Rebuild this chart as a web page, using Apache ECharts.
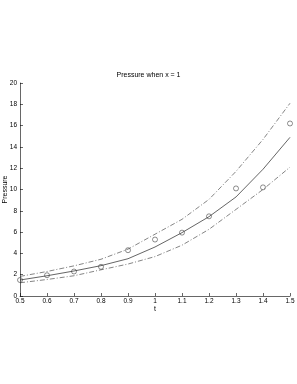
<!DOCTYPE html>
<html><head><meta charset="utf-8">
<script src="https://cdn.jsdelivr.net/npm/echarts@6/dist/echarts.min.js"></script>
<style>html,body{margin:0;padding:0;background:#fff}#c{width:297px;height:384px}</style>
</head><body><div id="c"></div>
<script>
const tValues = [0.5, 0.6, 0.7, 0.8, 0.9, 1.0, 1.1, 1.2, 1.3, 1.4, 1.5];
const meanP = [1.5, 1.9, 2.35, 2.85, 3.5, 4.6, 5.95, 7.45, 9.3, 11.9, 14.9];
const upperP = [1.84, 2.3, 2.83, 3.45, 4.4, 5.8, 7.2, 9.07, 11.7, 14.7, 18.1];
const lowerP = [1.24, 1.55, 1.9, 2.46, 3.0, 3.7, 4.77, 6.26, 8.13, 10.0, 12.1];
const observedP = [1.5, 1.95, 2.3, 2.74, 4.3, 5.3, 5.95, 7.48, 10.1, 10.2, 16.2];

const pair = arr => tValues.map((t, i) => [t, arr[i]]);
const font = 'Liberation Sans, Arial, sans-serif';
const dashDot = {type: [5, 2, 1, 2], width: 0.6, color: '#333'};
const chart = echarts.init(document.getElementById('c'), null, {renderer: 'canvas'});
chart.setOption({
  animation: false,
  title: {text: 'Pressure when x = 1', left: 'center', top: 72, padding: 0,
    textStyle: {fontSize: 7, fontWeight: 'normal', color: '#000', fontFamily: font}},
  grid: {left: 20, right: 7, top: 83, bottom: 88, containLabel: false, outerBoundsMode: 'none'},
  xAxis: {type: 'value', min: 0.5, max: 1.5, interval: 0.1, name: 't',
    nameLocation: 'middle', nameGap: 10, nameMoveOverlap: false,
    nameTextStyle: {fontSize: 7, color: '#000', fontFamily: font},
    axisLine: {lineStyle: {color: '#000', width: 0.6}},
    axisTick: {inside: true, length: 3, lineStyle: {color: '#000', width: 0.6}},
    axisLabel: {fontSize: 6.5, color: '#000', fontFamily: font, margin: 2,
      formatter: v => String(parseFloat(v.toFixed(1)))},
    splitLine: {show: false}},
  yAxis: {type: 'value', min: 0, max: 20, interval: 2, name: 'Pressure',
    nameLocation: 'middle', nameGap: 11, nameRotate: 90, nameMoveOverlap: false,
    nameTextStyle: {fontSize: 7, color: '#000', fontFamily: font},
    axisLine: {show: true, lineStyle: {color: '#000', width: 0.6}},
    axisTick: {show: true, inside: true, length: 3, lineStyle: {color: '#000', width: 0.6}},
    axisLabel: {fontSize: 6.5, color: '#000', fontFamily: font, margin: 3},
    splitLine: {show: false}},
  series: [
    {type: 'line', data: pair(meanP), symbol: 'none', lineStyle: {color: '#222', width: 0.7}},
    {type: 'line', data: pair(upperP), symbol: 'none', lineStyle: dashDot},
    {type: 'line', data: pair(lowerP), symbol: 'none', lineStyle: dashDot},
    {type: 'scatter', data: pair(observedP), symbol: 'circle', symbolSize: 5, z: 5,
      itemStyle: {color: 'rgba(255,255,255,0)', borderColor: '#333', borderWidth: 0.7}}
  ]
});
</script></body></html>
